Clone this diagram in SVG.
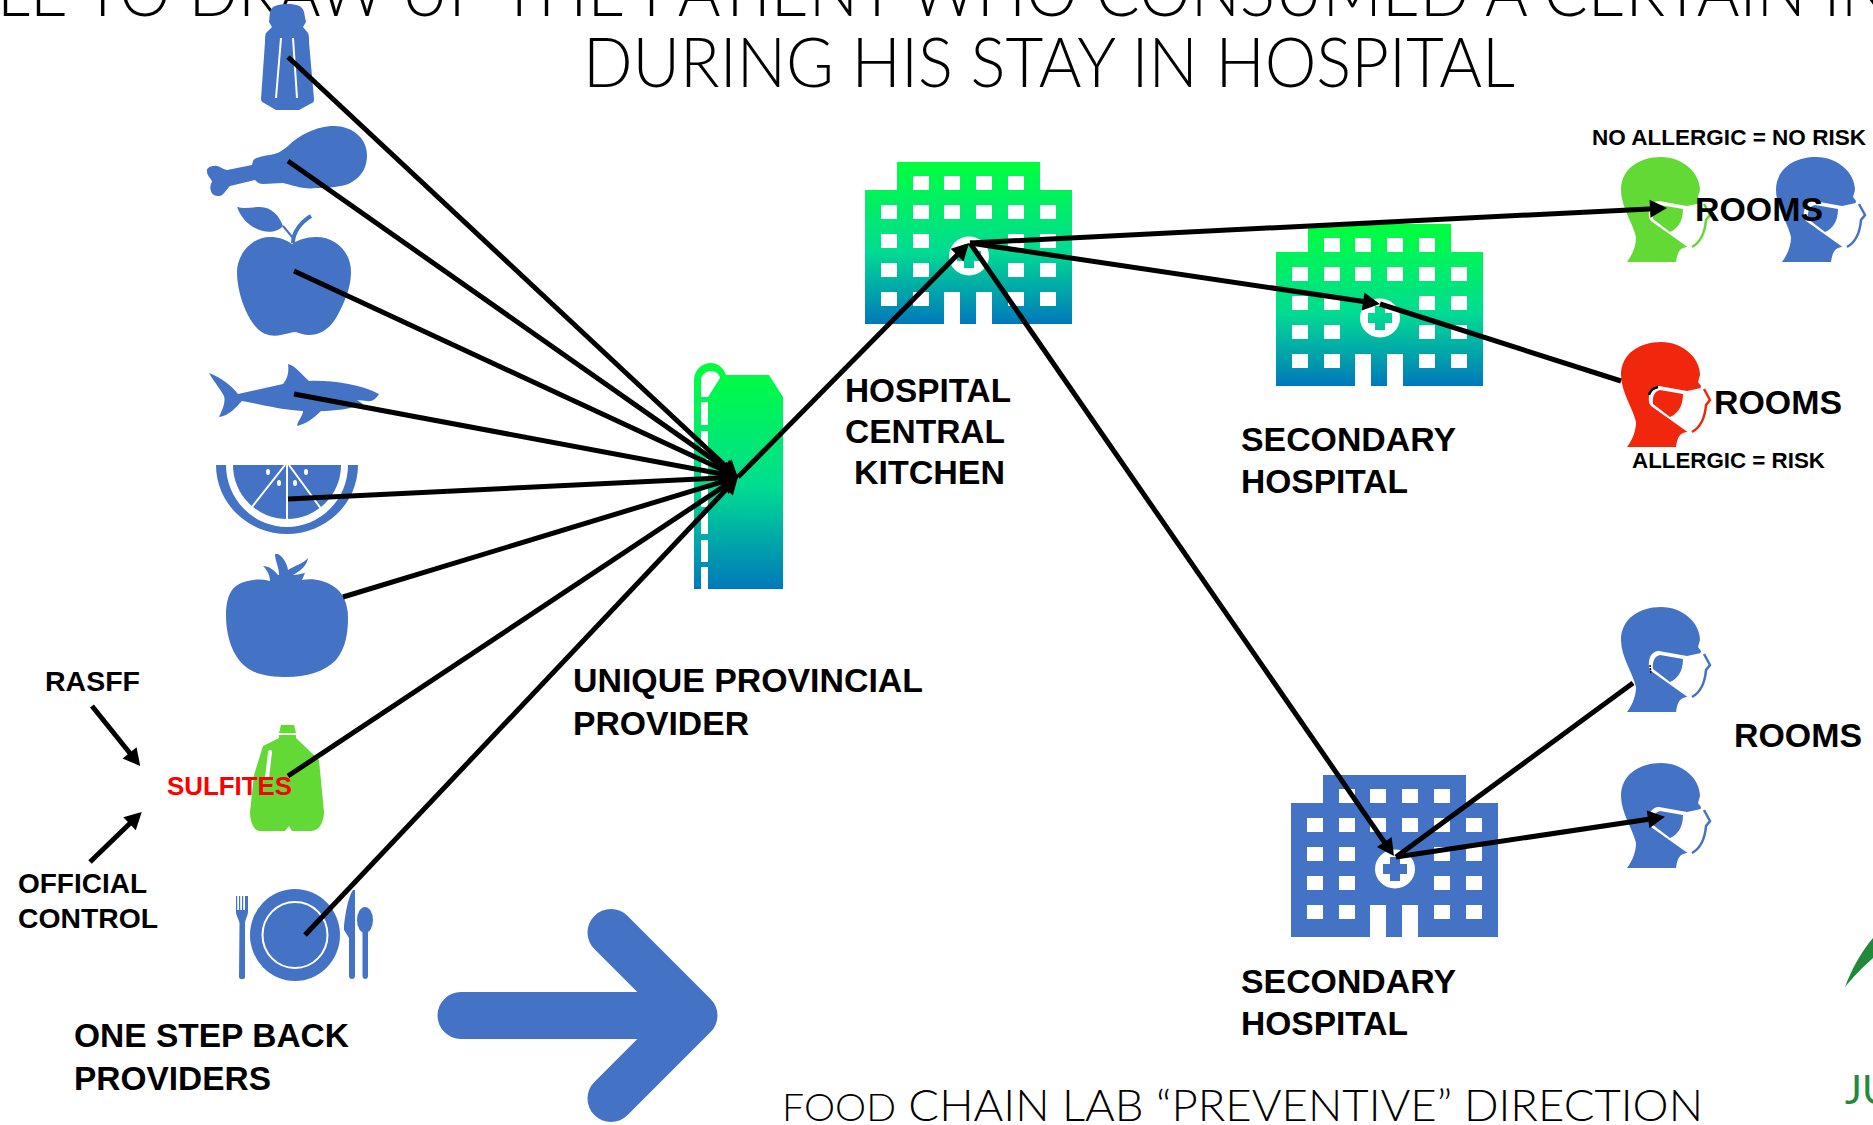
<svg xmlns="http://www.w3.org/2000/svg" width="1873" height="1125" viewBox="0 0 1873 1125">
<style>
.icon{fill:#4472C4}
.lbl{font-family:"Liberation Sans",Arial,sans-serif;font-weight:700;fill:#000;font-size:34px}
.lbl28{font-size:28px}
.lbl22{font-size:22px}
.title{font-family:Lato,"Open Sans",sans-serif;font-weight:300;fill:#000;font-size:68px}
.wl{stroke:#fff;fill:none}
.conn line{stroke:#000;stroke-width:5;fill:none}
.arr{marker-end:url(#ah)}
</style>
<defs>
<linearGradient id="g" x1="0" y1="0" x2="0" y2="1">
<stop offset="0" stop-color="#00FF3C"/><stop offset=".55" stop-color="#00DC92"/><stop offset="1" stop-color="#0078BC"/>
</linearGradient>
<marker id="ah" markerUnits="userSpaceOnUse" markerWidth="20" markerHeight="20" refX="9" refY="9" orient="auto" overflow="visible">
<path d="M0,0L17,9L0,18Z" fill="#000"/>
</marker>
<path id="bld" fill-rule="evenodd" d="M32,0H175V28H207V162H127V130H111V162H95V130H79V162H0V28H32Z
M48,14h16v14h-16z M79,14h16v14h-16z M111,14h16v14h-16z M143,14h16v14h-16z
M16,43h16v14h-16z M48,43h16v14h-16z M79,43h16v14h-16z M111,43h16v14h-16z M143,43h16v14h-16z M175,43h16v14h-16z
M16,72h16v14h-16z M48,72h16v14h-16z M143,72h16v14h-16z M175,72h16v14h-16z
M16,101h16v14h-16z M48,101h16v14h-16z M143,101h16v14h-16z M175,101h16v14h-16z
M16,130h16v14h-16z M48,130h16v14h-16z M143,130h16v14h-16z M175,130h16v14h-16z
M84,94a20,19.500 0 1 0 40,0a20,19.500 0 1 0 -40,0z
M99,82h10v7h7v10h-7v7h-10v-7h-7v-10h7z"/>
<g id="head">
<path fill="currentColor" d="M6,105C12,97 15,88 15,80C12,66 0,50 0,33C0,12 18,0 40,0C62,0 79,16 79,33L77,40L80,44L69,89L62,91C57,93 56,99 55,105Z"/>
<path fill="#fff" d="M38,44C30,44 27,52 28,60C28,62 30,63 30,64L68,91C78,82 83,70 83,60L86,57L80,46L66,49Z"/>
<path fill="currentColor" d="M39,48L62,52C62,65 56,72 49,75L32,62C31,56 33,49 39,48Z"/>
<path fill="none" stroke="currentColor" stroke-width="2.500" d="M83,47L89,58L85,63C84,75 80,85 71,90"/>
</g>
</defs>

<g id="title">
<text class="title" x="-3" y="16" textLength="1893" lengthAdjust="spacingAndGlyphs">LE TO DRAW UP THE PATIENT WHO CONSUMED A CERTAIN IN</text>
<text class="title" x="583" y="87" textLength="932" lengthAdjust="spacingAndGlyphs">DURING HIS STAY IN HOSPITAL</text>
</g>

<g id="salt">
<path class="icon" d="M288,4C278,4 271,6 270,12L269,22L272,27L266,33C265,35 265,38 265,42L261,99C261,101 262,102 264,103L276,110L299,110L312,103C314,102 314,101 314,99L309,42C309,38 309,35 308,33L303,27L306,22L304,12C303,6 296,4 288,4Z"/>
<path class="wl" stroke-width="2" d="M281,38L276,98M293,38L297,98"/>
</g>
<g id="drumstick">
<path class="icon" d="M367,155C367,138 352,126 334,126C316,126 298,136 288,146C281,152 276,154 270,155C262,156 254,158 253,161L252,165L227,170C222,169 218,165 214,166C209,166 206,169 207,172C207,176 212,179 212,182C210,185 210,189 211,191C212,195 215,196 219,196C224,196 227,188 230,186L255,180C258,183 260,184 263,184L283,183C292,185 304,190 316,188C332,188 346,186 352,182C362,176 367,167 367,155Z"/>
</g>
<g id="apple">
<path class="icon" d="M292,244C284,238 276,237 270,237C252,237 237,254 237,272C237,292 246,316 256,327C263,335 272,337 281,335C287,334 291,332 296,332C300,333 304,335 309,335C318,335 328,331 336,318C344,304 351,288 351,272C351,252 336,237 316,237C306,237 298,240 292,244Z"/>
<path class="icon" d="M237,207C245,209 252,207 260,207C272,207 279,216 283,226C279,231 270,233 263,231C250,228 241,218 237,207Z"/>
<path fill="none" stroke="#4472C4" stroke-width="4" d="M293,243C293,232 301,222 311,216"/>
<path fill="none" stroke="#4472C4" stroke-width="2" d="M283,226L293,238"/>
</g>
<g id="shark">
<path class="icon" d="M209,373C222,378 232,386 238,394L283,384C288,378 289,372 288,364C296,366 303,376 309,381C330,380 360,384 379,394C376,399 372,402 367,401L357,400L363,404C350,409 335,411 321,411C314,418 306,424 297,426C298,420 303,416 303,411C280,410 260,404 242,401C236,407 229,416 219,417C222,410 226,403 224,396C220,388 213,381 209,373Z"/>
</g>
<g id="orange">
<path class="icon" d="M216,465H358A71,69 0 0 1 216,465Z"/>
<path fill="#fff" d="M226,465H348A61,62 0 0 1 226,465Z"/>
<path class="icon" d="M233,465H341A54,54 0 0 1 233,465Z"/>
<path class="wl" stroke-width="2" d="M287,465V520M285,465L248,512M289,465L322,510"/>
<g fill="#fff"><ellipse cx="268" cy="472" rx="2" ry="3"/><ellipse cx="306" cy="472" rx="2" ry="3"/><ellipse cx="279" cy="483" rx="2" ry="3"/><ellipse cx="295" cy="483" rx="2" ry="3"/></g>
</g>
<g id="tomato">
<path class="icon" d="M270,581C258,578 244,580 236,586C228,592 226,604 226,615C226,635 232,656 246,667C256,675 272,677 287,677C306,677 324,672 336,660C346,648 348,632 348,618C348,604 343,592 333,586C324,580 312,578 302,580L305,573C300,574 296,575 293,575C300,571 307,566 308,558C304,563 294,566 288,570C287,563 283,557 278,554L275,554C275,561 279,567 279,575L278,575C274,570 269,566 263,566C267,570 270,575 270,581Z"/>
</g>
<g id="jug">
<path fill="#63D936" d="M281,725L294,725L296,733L279,733Z"/>
<path fill="#63D936" d="M279,735L296,735L296,738L319,760L324,812C324,822 319,831 311,831L292,831L289,826L285,831L260,831C253,831 250,820 250,812L254,775L263,746L279,738Z"/>
<path class="wl" stroke-width="4" stroke-linecap="round" d="M270,752L267,778"/>
</g>
<g id="plate">
<ellipse class="icon" cx="295" cy="935" rx="45" ry="46"/>
<ellipse class="wl" stroke-width="2" cx="295" cy="935" rx="32.500" ry="33"/>
<path class="icon" d="M236,896h1.200V910h1.800V896h1.200V910h1.800V896h1.200V910h1.800V896h1.200V896h1.800V912C248,916 245,919 245,923L245,977C245,980 239,980 239,977L239.500,923C239,919 236,916 236,912Z"/>
<path class="icon" d="M353,890C348,897 345,915 344,926L344,930L349,938L349,976C349,980 355,980 355,976L355,890Z"/>
<ellipse class="icon" cx="365" cy="920" rx="8" ry="13"/>
<path class="icon" d="M362.500,928H368V976C368,980 362.500,980 362.500,976Z"/>
</g>
<g id="rasff"><text class="lbl lbl28" x="45" y="691" textLength="95" lengthAdjust="spacingAndGlyphs">RASFF</text></g>
<g id="official-control">
<text class="lbl lbl28" x="18" y="893" textLength="129" lengthAdjust="spacingAndGlyphs">OFFICIAL</text>
<text class="lbl lbl28" x="18" y="928" textLength="140" lengthAdjust="spacingAndGlyphs">CONTROL</text>
</g>
<g id="providers-label">
<text class="lbl" x="74" y="1047" textLength="275" lengthAdjust="spacingAndGlyphs">ONE STEP BACK</text>
<text class="lbl" x="74" y="1090" textLength="197" lengthAdjust="spacingAndGlyphs">PROVIDERS</text>
</g>
<g id="direction-arrow">
<path fill="none" stroke="#4472C4" stroke-width="47" stroke-linecap="round" stroke-linejoin="round" d="M461,1015.500H694M611,932.500L694,1015.500L611,1098.500"/>
</g>
<g id="provider">
<path fill="url(#g)" d="M694,380C694,370 702,363 711,363C718,363 724,368 726,375L769,375L783,397L783,589L694,589Z"/>
<path fill="#fff" d="M701,397V380C701,375 706,371 711,371C716,371 719,374 720,378L708,397Z"/>
<path fill="#fff" d="M701,402h7v23h-7zM701,431h7v22h-7zM701,459h7v21h-7zM701,486h7v21h-7zM701,513h7v21h-7zM701,540h7v22h-7zM701,567h7v22h-7z"/>
<text class="lbl" x="573" y="692" textLength="350" lengthAdjust="spacingAndGlyphs">UNIQUE PROVINCIAL</text>
<text class="lbl" x="573" y="735" textLength="176" lengthAdjust="spacingAndGlyphs">PROVIDER</text>
</g>
<g id="kitchen">
<use href="#bld" x="865" y="162" fill="url(#g)"/>
<text class="lbl" x="845" y="402" textLength="166" lengthAdjust="spacingAndGlyphs">HOSPITAL</text>
<text class="lbl" x="845" y="443" textLength="160" lengthAdjust="spacingAndGlyphs">CENTRAL</text>
<text class="lbl" x="854" y="484" textLength="151" lengthAdjust="spacingAndGlyphs">KITCHEN</text>
</g>
<g id="secondary-1">
<use href="#bld" x="1276" y="224" fill="url(#g)"/>
<text class="lbl" x="1241" y="451" textLength="215" lengthAdjust="spacingAndGlyphs">SECONDARY</text>
<text class="lbl" x="1241" y="493" textLength="167" lengthAdjust="spacingAndGlyphs">HOSPITAL</text>
</g>
<g id="secondary-2">
<use href="#bld" x="1291" y="775" class="icon"/>
<text class="lbl" x="1241" y="993" textLength="215" lengthAdjust="spacingAndGlyphs">SECONDARY</text>
<text class="lbl" x="1241" y="1035" textLength="167" lengthAdjust="spacingAndGlyphs">HOSPITAL</text>
</g>
<g id="head-green"><use href="#head" x="1621" y="157" color="#63D936"/></g>
<g id="head-blue-1"><use href="#head" x="1776" y="157" color="#4472C4"/></g>
<g id="head-red"><use href="#head" x="1621" y="342" color="#F0270D"/></g>
<g id="head-blue-2"><use href="#head" x="1621" y="607" color="#4472C4"/></g>
<g id="head-blue-3"><use href="#head" x="1621" y="763" color="#4472C4"/></g>

<g id="connectors" class="conn">
<line class="arr" x1="288" y1="57" x2="732" y2="472"/>
<line class="arr" x1="288" y1="161" x2="731.500" y2="472.400"/>
<line class="arr" x1="294" y1="271" x2="730.700" y2="473.600"/>
<line class="arr" x1="294" y1="394" x2="730.100" y2="475.500"/>
<line class="arr" x1="288" y1="499" x2="730" y2="477.400"/>
<line class="arr" x1="343" y1="597" x2="730.300" y2="479.300"/>
<line class="arr" x1="288" y1="776" x2="731.300" y2="481.400"/>
<line class="arr" x1="305" y1="935" x2="732.500" y2="482.800"/>
<line class="arr" x1="738" y1="477" x2="963.400" y2="248.700"/>
<line class="arr" x1="970" y1="243" x2="1659" y2="208.400"/>
<line class="arr" x1="970" y1="243" x2="1372" y2="302.800"/>
<line class="arr" x1="970" y1="243" x2="1389.400" y2="849.400"/>
<line class="arr" x1="1396" y1="857" x2="1657" y2="818"/>
<line x1="1396" y1="857" x2="1633" y2="683"/>
<line x1="1380" y1="304" x2="1621" y2="381"/>
<line class="arr" x1="92" y1="706" x2="135.200" y2="759.800"/>
<line class="arr" x1="90" y1="862" x2="136" y2="817.500"/>
<path d="M1649,395C1650,391 1654,388 1658,387" fill="none" stroke="#000" stroke-width="2.500"/>
<path d="M1650,665L1651,674" fill="none" stroke="#000" stroke-width="1.500" stroke-dasharray="2 1"/>
</g>

<g id="sulfites"><text class="lbl" style="font-size:26px;fill:#FF0000" x="167" y="795" textLength="125" lengthAdjust="spacingAndGlyphs">SULFITES</text></g>
<g id="rooms-labels">
<text class="lbl" x="1695" y="221" textLength="128" lengthAdjust="spacingAndGlyphs">ROOMS</text>
<text class="lbl" x="1714" y="414" textLength="128" lengthAdjust="spacingAndGlyphs">ROOMS</text>
<text class="lbl" x="1734" y="747" textLength="128" lengthAdjust="spacingAndGlyphs">ROOMS</text>
<text class="lbl lbl22" x="1592" y="145" textLength="274" lengthAdjust="spacingAndGlyphs">NO ALLERGIC = NO RISK</text>
<text class="lbl lbl22" x="1632" y="468" textLength="193" lengthAdjust="spacingAndGlyphs">ALLERGIC = RISK</text>
</g>
<g id="footer">
<text class="title" x="782" y="1121" style="font-size:44px" textLength="921" lengthAdjust="spacingAndGlyphs"><tspan style="font-size:38px">FOOD</tspan> CHAIN LAB “PREVENTIVE” DIRECTION</text>
</g>
<g id="logo">
<path fill="#1E8A3A" d="M1845,987C1852,968 1862,951 1873,938V958C1864,966 1853,977 1845,987Z"/>
<text x="1845" y="1104" style="font-family:Lato,sans-serif;font-weight:400;font-size:40px;fill:#1E8A3A">JU</text>
</g>
</svg>
